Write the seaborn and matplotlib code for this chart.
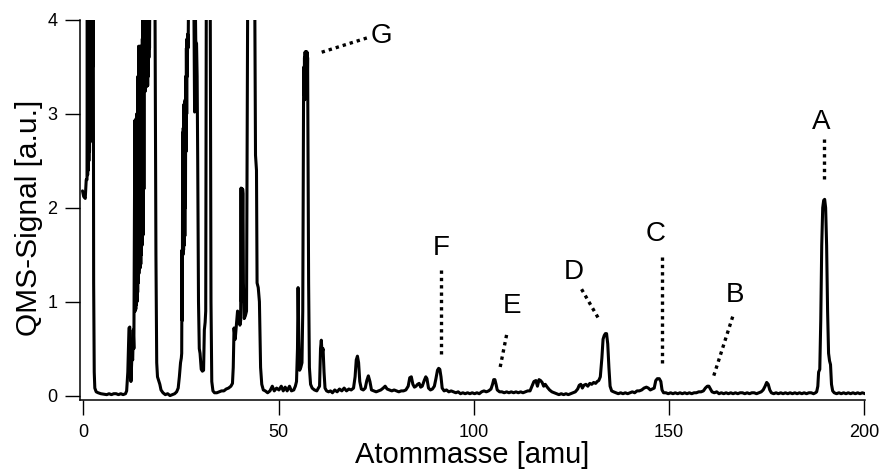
import matplotlib
matplotlib.use("Agg")
import matplotlib.pyplot as plt
import seaborn as sns
import pandas as pd

# ---------------- data ----------------
mass = [
    -0.2, 0.1, 0.5, 0.75,
    0.95, 1.03, 1.11, 1.19, 1.27, 1.35, 1.43, 1.51, 1.59, 1.67, 1.75, 1.83, 1.91, 1.99, 2.07, 2.15, 2.23, 2.31, 2.39, 2.47, 2.55,
    2.65, 2.8, 2.95, 3.3, 3.8,
    4.5, 5.2, 6.0, 6.6, 7.2, 7.8, 8.4, 9.0, 9.6, 10.2, 10.8,
    11.1, 11.4, 11.7, 11.9, 12.05, 12.2, 12.45, 12.65, 12.8, 12.95,
    13.20, 13.28, 13.36, 13.44, 13.52, 13.60, 13.68, 13.76, 13.84, 13.92, 14.00, 14.08, 14.16, 14.24, 14.32, 14.40, 14.48,
    14.56, 14.64, 14.72, 14.80, 14.88, 14.96, 15.04, 15.12, 15.20, 15.28, 15.36, 15.44, 15.52, 15.60, 15.68, 15.76, 15.84,
    15.92, 16.00, 16.08, 16.16, 16.24, 16.32, 16.40, 16.48, 16.56, 16.64, 16.72, 16.80, 16.88, 16.96, 17.04,
    18.35, 18.6, 18.8, 19.0, 19.3, 19.6, 19.9, 20.4,
    21.0, 21.6, 22.2, 22.8, 23.4,
    23.9, 24.3, 24.6, 24.9, 25.1,
    25.20, 25.28, 25.36, 25.44, 25.52, 25.60, 25.68, 25.76, 25.84, 25.92, 26.00, 26.08, 26.16, 26.24, 26.32, 26.40, 26.48,
    26.56, 26.64, 26.72, 26.80, 26.88, 26.96,
    28.3, 28.5, 28.65,
    28.8, 29.0, 29.15, 29.3, 29.5, 29.7, 29.9, 30.2, 30.5, 30.8, 31.0, 31.2, 31.35, 31.5, 32.5, 32.7, 32.9, 33.2, 33.6,
    34.2, 34.8, 35.4, 36.0, 36.6, 37.2, 37.8, 38.2,
    38.4, 38.6, 38.9, 39.2, 39.5, 39.8, 40.1, 40.3, 40.4, 40.5, 40.6, 40.7, 40.8, 40.9, 41.0, 41.2, 41.5, 41.8,
    42.1, 43.9, 44.1, 44.35, 44.5, 44.8, 45.1, 45.4, 45.7, 46.1,
    46.6, 47.2, 47.8, 48.4, 48.9, 49.5, 50.1, 50.7, 51.2, 51.7, 52.2, 52.8, 53.3, 53.9, 54.3,
    54.6, 54.85, 55.0, 55.2, 55.4, 55.7, 56.0,
    56.20, 56.40, 56.48, 56.56, 56.64, 56.72, 56.80, 56.88, 56.96, 57.04, 57.12, 57.20, 57.28, 57.36, 57.44, 57.55, 57.70,
    57.90, 58.2, 58.6,
    59.2, 59.8, 60.2, 60.5, 60.75, 60.95, 61.15, 61.4, 61.65, 61.9, 62.3,
    62.8, 63.3, 63.8, 64.4, 65.0, 65.6, 66.2, 66.8, 67.4, 68.0, 68.6,
    69.2, 69.6, 69.9, 70.2, 70.5, 70.8, 71.2, 71.7, 72.2, 72.6, 73.0, 73.4, 73.8, 74.4, 75.0, 75.6, 76.2, 76.8, 77.3, 77.8,
    78.4, 79.0, 79.6, 80.2, 80.8, 81.4, 82.0, 82.6, 83.2, 83.6, 84.0, 84.4, 84.8, 85.2, 85.6, 86.0, 86.4, 86.8, 87.3, 87.7,
    88.0, 88.4, 88.9, 89.4, 89.9, 90.3, 90.7, 91.0, 91.3, 91.6, 91.9, 92.4,
    93.0, 93.6, 94.2, 94.8, 95.4, 96.0, 96.6, 97.2, 97.8, 98.4, 99.0, 99.6, 100.2, 100.8, 101.4, 102.0, 102.6, 103.2, 103.8,
    104.4, 104.8, 105.1, 105.4, 105.7, 106.0, 106.6,
    107.2, 107.8, 108.4, 109.0, 109.6, 110.2, 110.8, 111.4, 112.0, 112.6, 113.2, 113.8, 114.4, 114.9, 115.4, 115.9, 116.3, 116.7,
    117.1, 117.5, 117.9, 118.3, 118.8, 119.4, 120.0, 120.6, 121.2, 121.8, 122.4, 123.0, 123.6, 124.2, 124.8, 125.4, 126.0, 126.6,
    127.0, 127.4, 127.8, 128.2, 128.7, 129.2, 129.7, 130.2, 130.7, 131.2, 131.6, 132.0, 132.4, 132.8, 133.1, 133.4, 133.7, 134.0,
    134.3, 134.6, 134.9, 135.3, 135.8,
    136.4, 137.0, 137.6, 138.2, 138.8, 139.4, 140.0, 140.6, 141.2, 141.8, 142.4, 143.0, 143.6, 144.2, 144.7, 145.2, 145.7, 146.2,
    146.6, 147.0, 147.5, 147.9, 148.2, 148.6, 149.2, 149.8, 150.4, 151.0, 151.6, 152.2, 152.8, 153.4, 154.0, 154.6, 155.2, 155.8,
    156.4, 157.0, 157.6, 158.2, 158.8, 159.3, 159.8, 160.2, 160.6, 161.0, 161.6,
    162.2, 162.8, 163.4, 164.0, 164.6, 165.2, 165.8, 166.4, 167.0, 167.6, 168.2, 168.8, 169.4, 170.0, 170.6, 171.2, 171.8, 172.4,
    173.0, 173.6, 174.1, 174.6, 175.0, 175.4, 175.8, 176.2, 176.8, 177.4, 178.0, 178.6, 179.2, 179.8, 180.4, 181.0, 181.6, 182.2,
    182.8, 183.4, 184.0, 184.6, 185.2, 185.8, 186.4, 187.0, 187.5,
    187.8, 188.1, 188.3, 188.6, 188.85, 189.1, 189.35, 189.6, 189.85, 190.1, 190.35, 190.6, 190.85, 191.1, 191.35, 191.6, 191.9,
    192.3, 192.9, 193.5, 194.1, 194.7, 195.3, 195.9, 196.5, 197.1, 197.7, 198.3, 198.9, 199.5, 200.2,
]
signal = [
    2.18, 2.12, 2.10, 2.30,
    2.30, 4.3, 2.35, 4.3, 2.4, 4.3, 2.5, 4.3, 2.6, 4.3, 2.7, 4.3, 2.9, 4.3, 3.1, 4.3, 3.3, 4.3, 3.5, 4.3, 4.3,
    1.2, 0.25, 0.08, 0.04, 0.03,
    0.02, 0.015, 0.01, 0.02, 0.01, 0.02, 0.02, 0.01, 0.02, 0.01, 0.02,
    0.05, 0.25, 0.72, 0.73, 0.5, 0.15, 0.42, 0.38, 0.7, 0.5,
    2.93, 0.90, 2.93, 0.92, 2.95, 0.97, 3.00, 1.00, 3.00, 1.10, 3.40, 1.20, 3.72, 1.30, 3.72, 1.35, 3.72,
    1.36, 3.72, 1.40, 3.72, 1.50, 3.72, 1.60, 3.80, 1.70, 4.30, 1.72, 4.30, 2.20, 4.30, 3.24, 4.30, 3.24,
    4.30, 3.28, 4.30, 3.30, 4.30, 3.30, 4.30, 3.30, 4.30, 3.40, 4.30, 3.60, 4.30, 3.70, 4.30,
    4.3, 1.5, 0.35, 0.2, 0.16, 0.12, 0.06, 0.03,
    0.01, 0.02, 0.0, 0.01, 0.02,
    0.04, 0.08, 0.2, 0.35, 0.4,
    0.45, 1.55, 0.80, 2.80, 1.50, 2.85, 1.55, 3.10, 1.60, 3.12, 1.70, 3.15, 2.00, 3.40, 2.60, 3.70, 3.00,
    3.80, 3.40, 3.85, 3.70, 3.85, 4.30,
    4.3, 3.02, 4.3,
    3.77, 3.75, 3.4, 2.5, 1.0, 0.5, 0.45, 0.28, 0.26, 0.27, 0.7, 0.78, 0.9, 4.3, 4.3, 1.0, 0.15, 0.05, 0.03,
    0.03, 0.04, 0.05, 0.05, 0.07, 0.08, 0.1, 0.13,
    0.3, 0.72, 0.6, 0.75, 0.9, 0.88, 0.75, 0.8, 2.21, 1.0, 2.2, 1.4, 2.2, 2.15, 1.2, 0.82, 0.85, 0.9,
    4.3, 4.3, 2.56, 2.4, 1.2, 1.15, 1.0, 0.3, 0.12, 0.06,
    0.05, 0.03, 0.05, 0.1, 0.05, 0.08, 0.06, 0.1, 0.05, 0.09, 0.05, 0.1, 0.05, 0.06, 0.1,
    0.15, 0.5, 1.15, 0.6, 0.27, 0.3, 0.35,
    0.90, 3.13, 3.50, 3.20, 3.60, 3.15, 3.66, 3.20, 3.66, 3.20, 3.66, 3.25, 3.66, 3.30, 3.60, 2.60, 1.20,
    0.30, 0.12, 0.08,
    0.06, 0.05, 0.08, 0.1, 0.5, 0.59, 0.45, 0.5, 0.25, 0.08, 0.05,
    0.04, 0.05, 0.03, 0.06, 0.04, 0.07, 0.05, 0.08, 0.05, 0.07, 0.06,
    0.08, 0.2, 0.38, 0.42, 0.35, 0.15, 0.07, 0.06, 0.08, 0.16, 0.21, 0.15, 0.06, 0.05, 0.04, 0.05, 0.06, 0.08, 0.1, 0.07,
    0.06, 0.05, 0.06, 0.05, 0.04, 0.05, 0.05, 0.06, 0.1, 0.19, 0.2, 0.12, 0.09, 0.1, 0.12, 0.13, 0.09, 0.1, 0.16, 0.2,
    0.18, 0.08, 0.06, 0.07, 0.1, 0.18, 0.27, 0.29, 0.28, 0.2, 0.08, 0.05,
    0.06, 0.04, 0.05, 0.04, 0.03, 0.04, 0.02, 0.03, 0.02, 0.03, 0.02, 0.03, 0.02, 0.03, 0.02, 0.04, 0.05, 0.04, 0.05,
    0.07, 0.12, 0.17, 0.17, 0.12, 0.06, 0.04,
    0.04, 0.03, 0.04, 0.03, 0.04, 0.03, 0.04, 0.03, 0.04, 0.03, 0.04, 0.05, 0.05, 0.1, 0.15, 0.16, 0.1, 0.17,
    0.16, 0.14, 0.1, 0.12, 0.09, 0.06, 0.04, 0.03, 0.02, 0.01, 0.02, 0.01, 0.02, 0.01, 0.02, 0.03, 0.04, 0.07,
    0.11, 0.12, 0.08, 0.11, 0.12, 0.1, 0.13, 0.12, 0.14, 0.13, 0.15, 0.16, 0.2, 0.4, 0.6, 0.64, 0.66, 0.66,
    0.55, 0.3, 0.1, 0.05, 0.04,
    0.03, 0.02, 0.03, 0.02, 0.03, 0.02, 0.03, 0.04, 0.03, 0.05, 0.05, 0.06, 0.08, 0.09, 0.08, 0.06, 0.07, 0.08,
    0.16, 0.18, 0.18, 0.15, 0.06, 0.03, 0.03, 0.02, 0.03, 0.02, 0.03, 0.02, 0.03, 0.02, 0.03, 0.02, 0.03, 0.02,
    0.03, 0.03, 0.04, 0.04, 0.05, 0.08, 0.1, 0.1, 0.07, 0.04, 0.03,
    0.04, 0.02, 0.03, 0.02, 0.03, 0.02, 0.03, 0.02, 0.03, 0.02, 0.03, 0.03, 0.02, 0.03, 0.02, 0.03, 0.03, 0.02,
    0.03, 0.04, 0.06, 0.1, 0.14, 0.12, 0.06, 0.03, 0.02, 0.03, 0.02, 0.03, 0.02, 0.03, 0.02, 0.03, 0.02, 0.03,
    0.02, 0.03, 0.02, 0.03, 0.02, 0.03, 0.03, 0.02, 0.03,
    0.04, 0.1, 0.25, 0.28, 0.8, 1.6, 2.0, 2.08, 2.09, 2.0, 1.6, 0.9, 0.45, 0.37, 0.33, 0.12, 0.05,
    0.03, 0.02, 0.03, 0.02, 0.03, 0.02, 0.03, 0.02, 0.03, 0.02, 0.03, 0.02, 0.03, 0.02,
]
if len(mass) != len(signal):
    raise SystemExit(f"length mismatch {len(mass)} vs {len(signal)}")

# peak annotations (letters + dotted leader lines), in data units
peak_labels = ["G", "F", "E", "D", "C", "B", "A"]
label_x = [76.4, 91.65, 109.7, 125.6, 146.65, 166.97, 188.9]
label_y = [3.753, 1.498, 0.877, 1.240, 1.645, 1.001, 2.837]   # text baselines
leader_x0 = [61.05, 91.5, 108.4, 127.6, 148.3, 166.3, 189.76]
leader_y0 = [3.657, 1.339, 0.646, 1.133, 1.48, 0.841, 2.73]
leader_x1 = [73.24, 91.5, 106.7, 131.9, 148.3, 161.4, 189.76]
leader_y1 = [3.817, 0.415, 0.292, 0.824, 0.309, 0.205, 2.28]

x_ticks = [0, 50, 100, 150, 200]
y_ticks = [0, 1, 2, 3, 4]
x_label = "Atommasse [amu]"
y_label = "QMS-Signal [a.u.]"

# ---------------- figure ----------------
sns.set_theme(style="ticks")
plt.rcParams["font.family"] = ["Liberation Sans", "DejaVu Sans"]

W, H = 882, 469
fig = plt.figure(figsize=(W / 100, H / 100), dpi=100)
ax = fig.add_axes([80 / W, 1 - 400 / H, 785 / W, 380 / H])

df = pd.DataFrame({"mass": mass, "signal": signal})
sns.lineplot(data=df, x="mass", y="signal", color="black", linewidth=2.2,
             sort=False, estimator=None, ax=ax)

for lab, tx, ty, x0, y0, x1, y1 in zip(peak_labels, label_x, label_y,
                                       leader_x0, leader_y0, leader_x1, leader_y1):
    ax.plot([x0, x1], [y0, y1], color="black", linewidth=2.4,
            linestyle=(0, (1, 1.2)), dash_capstyle="butt")
    ax.text(tx, ty, lab, ha="center", va="baseline", fontsize=20, color="black")

ax.set_xlim(-0.845, 200.18)
ax.set_ylim(-0.047, 4.0)
ax.set_xticks(x_ticks)
ax.set_yticks(y_ticks)

sns.despine(ax=ax)
for s in ("left", "bottom"):
    ax.spines[s].set_linewidth(1.1)
    ax.spines[s].set_color("black")

ax.tick_params(axis="both", direction="out", length=10.8, width=1.0,
               colors="black", labelsize=13)
ax.tick_params(axis="x", pad=6.5)
ax.tick_params(axis="y", pad=5.5)

ax.set_xlabel(x_label, fontsize=21, color="black")
ax.set_ylabel(y_label, fontsize=21.5, color="black")
ax.xaxis.set_label_coords(0.5, -0.1087)
ax.yaxis.set_label_coords(-0.047, 0.478)

fig.savefig("out.png", dpi=100)
